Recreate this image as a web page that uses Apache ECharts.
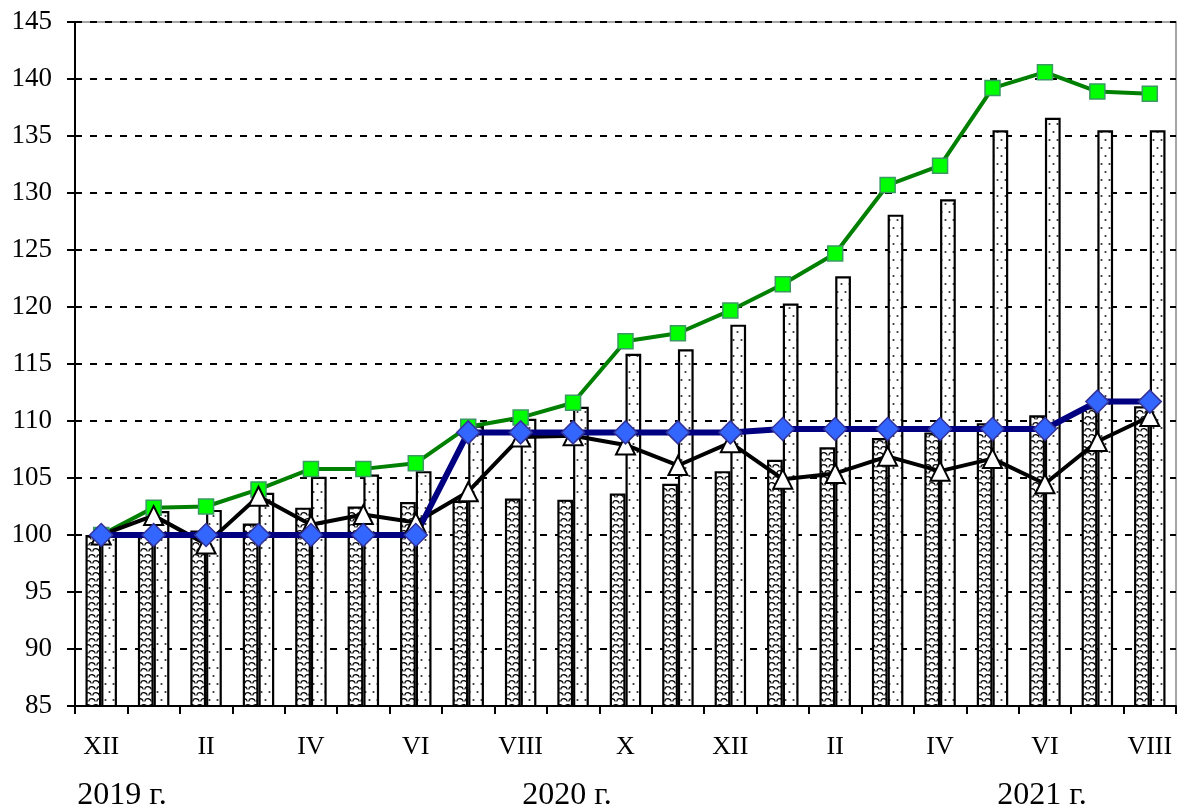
<!DOCTYPE html>
<html>
<head>
<meta charset="utf-8">
<script src="https://cdn.jsdelivr.net/npm/echarts/dist/echarts.min.js"></script>
<style>
html,body{margin:0;padding:0;background:#fff;}
#chart{width:1178px;height:809px;}
</style>
</head>
<body>
<div id="chart"></div>
<script>
// Categories: months from XII 2019 to VIII 2021
const months = ['XII','I','II','III','IV','V','VI','VII','VIII','IX','X','XI','XII','I','II','III','IV','V','VI','VII','VIII'];
const yearLabels = ['2019 г.', '2020 г.', '2021 г.'];

// Hatched bars
const barHatched = [100, 100.2, 100.4, 101.0, 102.4, 102.5, 102.9, 103.0, 103.2, 103.1, 103.65, 104.5, 105.6, 106.6, 107.7, 108.5, 109.0, 109.8, 110.5, 111.2, 111.3];
// Dotted bars
const barDotted = [100, 102.1, 102.2, 103.7, 105.1, 105.3, 105.6, 109.6, 110.2, 111.25, 115.9, 116.3, 118.45, 120.3, 122.7, 128.1, 129.45, 135.5, 136.6, 135.5, 135.5];
// Green line (squares)
const lineGreen = [100, 102.4, 102.5, 104.0, 105.8, 105.8, 106.3, 109.5, 110.3, 111.6, 117.0, 117.7, 119.7, 122.0, 124.7, 130.7, 132.4, 139.2, 140.6, 138.9, 138.7];
// Black line (triangles)
const lineBlack = [100, 101.7, 99.2, 103.4, 100.9, 101.8, 101.1, 103.8, 108.6, 108.7, 107.9, 106.1, 108.1, 104.9, 105.4, 106.9, 105.6, 106.7, 104.5, 108.2, 110.4];
// Blue line (diamonds)
const lineBlue = [100, 100, 100, 100, 100, 100, 100, 109.0, 109.0, 109.0, 109.0, 109.0, 109.0, 109.3, 109.3, 109.3, 109.3, 109.3, 109.3, 111.7, 111.7];

function wavePattern() {
  const c = document.createElement('canvas');
  c.width = 8; c.height = 12;
  const g = c.getContext('2d');
  g.fillStyle = '#fff'; g.fillRect(0, 0, 8, 12);
  g.strokeStyle = '#111'; g.lineWidth = 1.3;
  const arcs = [[4, 6], [0, 12], [8, 12], [0, 0], [8, 0]];
  arcs.forEach(function (p) {
    g.beginPath(); g.arc(p[0], p[1], 3.3, Math.PI * 1.05, Math.PI * 1.95); g.stroke();
  });
  return c;
}
function dotPattern() {
  const c = document.createElement('canvas');
  c.width = 8; c.height = 16;
  const g = c.getContext('2d');
  g.fillStyle = '#fff'; g.fillRect(0, 0, 8, 16);
  g.fillStyle = '#333';
  g.beginPath(); g.arc(5.5, 4, 1.1, 0, Math.PI * 2); g.fill();
  g.beginPath(); g.arc(1.5, 12, 1.1, 0, Math.PI * 2); g.fill();
  return c;
}

const FONT = 'Liberation Serif';
const chart = echarts.init(document.getElementById('chart'), null, {renderer: 'canvas'});

const yearX = [122, 567, 1042];

chart.setOption({
  animation: false,
  backgroundColor: '#fff',
  grid: {left: 75, right: 2, top: 22, bottom: 103, show: true, borderColor: '#a6a6a6', borderWidth: 2, containLabel: false, outerBoundsMode: 'none'},
  xAxis: {
    type: 'category',
    data: months,
    boundaryGap: true,
    axisLine: {show: true, lineStyle: {color: '#000', width: 2}},
    axisTick: {show: true, interval: 0, length: 8, lineStyle: {color: '#000', width: 2}},
    axisLabel: {interval: 1, margin: 28, color: '#000', fontFamily: FONT, fontSize: 26},
    splitLine: {show: false}
  },
  yAxis: {
    type: 'value',
    min: 85, max: 145, interval: 5,
    axisLine: {show: true, lineStyle: {color: '#000', width: 2}},
    axisTick: {show: true, length: 8, lineStyle: {color: '#000', width: 2}},
    axisLabel: {margin: 23, color: '#000', fontFamily: FONT, fontSize: 27},
    splitLine: {show: true, lineStyle: {color: '#000', width: 2, type: [7, 8]}}
  },
  graphic: yearLabels.map(function (t, i) {
    return {
      type: 'text',
      x: yearX[i], y: 796,
      style: {text: t, fontFamily: FONT, fontSize: 32, fill: '#000', align: 'center', verticalAlign: 'middle'}
    };
  }),
  series: [
    {
      type: 'bar', data: barHatched, barGap: '0%', barCategoryGap: '40%',
      itemStyle: {color: {image: wavePattern(), repeat: 'repeat'}, borderColor: '#000', borderWidth: 2.2},
      emphasis: {disabled: true}
    },
    {
      type: 'bar', data: barDotted, barGap: '0%', barCategoryGap: '40%',
      itemStyle: {color: {image: dotPattern(), repeat: 'repeat'}, borderColor: '#000', borderWidth: 2.2},
      emphasis: {disabled: true}
    },
    {
      type: 'line', data: lineGreen, symbol: 'rect', symbolSize: 15, showAllSymbol: true,
      lineStyle: {color: '#008000', width: 4},
      itemStyle: {color: '#00ff00', borderColor: '#3a9a62', borderWidth: 1.5},
      emphasis: {disabled: true}
    },
    {
      type: 'line', data: lineBlack, symbol: 'triangle', symbolSize: 19, showAllSymbol: true,
      lineStyle: {color: '#000', width: 4},
      itemStyle: {color: '#fff', borderColor: '#000', borderWidth: 2},
      emphasis: {disabled: true}
    },
    {
      type: 'line', data: lineBlue, symbol: 'diamond', symbolSize: 23, showAllSymbol: true,
      lineStyle: {color: '#000080', width: 6},
      itemStyle: {color: '#3366ff', borderColor: '#333399', borderWidth: 1.5},
      emphasis: {disabled: true}
    }
  ]
});
</script>
</body>
</html>
